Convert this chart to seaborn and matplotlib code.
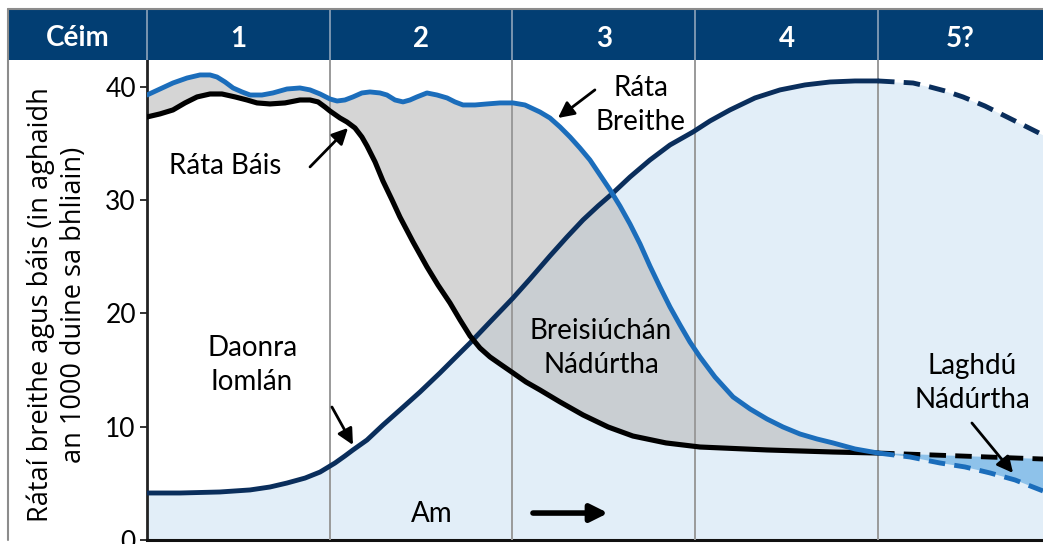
import matplotlib
matplotlib.use("Agg")
import matplotlib.pyplot as plt
from matplotlib.lines import Line2D
import numpy as np
import seaborn as sns

# ---------------- data ----------------
stage_header = "Céim"
stage_labels = ["1", "2", "3", "4", "5?"]
y_ticks = [0, 10, 20, 30, 40]

birth_x = [0.000, 0.071, 0.142, 0.219, 0.290, 0.345, 0.383, 0.427, 0.471, 0.520,
           0.564, 0.629, 0.689, 0.766, 0.837, 0.892, 0.947, 1.001, 1.040, 1.083,
           1.127, 1.176, 1.220, 1.275, 1.313, 1.357, 1.401, 1.439, 1.477, 1.532,
           1.587, 1.642, 1.685, 1.729, 1.795, 1.860, 1.932, 2.003, 2.068, 2.150,
           2.205, 2.260, 2.315, 2.369, 2.424, 2.479, 2.534, 2.588, 2.643, 2.698,
           2.752, 2.807, 2.862, 2.917, 2.971, 3.026, 3.108, 3.207, 3.300, 3.393,
           3.480, 3.573, 3.666, 3.754, 3.874, 4.000]
birth_y = [39.29, 39.82, 40.35, 40.79, 41.06, 41.06, 40.88, 40.44, 39.91, 39.56,
           39.29, 39.29, 39.47, 39.82, 39.91, 39.74, 39.38, 38.94, 38.76, 38.85,
           39.12, 39.47, 39.56, 39.47, 39.29, 38.85, 38.68, 38.85, 39.12, 39.47,
           39.29, 39.03, 38.68, 38.41, 38.41, 38.50, 38.59, 38.59, 38.41, 37.79,
           37.26, 36.47, 35.58, 34.61, 33.55, 32.23, 30.91, 29.49, 27.90, 26.14,
           24.19, 22.34, 20.57, 18.98, 17.48, 16.16, 14.39, 12.63, 11.57, 10.68,
           9.98, 9.36, 8.92, 8.57, 8.04, 7.68]
birth_future_x = [4.000, 4.175, 4.339, 4.476, 4.613, 4.750, 4.903]
birth_future_y = [7.68, 7.33, 6.80, 6.45, 5.92, 5.30, 4.33]

death_x = [0.000, 0.071, 0.142, 0.208, 0.274, 0.345, 0.410, 0.482, 0.547, 0.602,
           0.673, 0.755, 0.837, 0.892, 0.936, 0.974, 1.001, 1.056, 1.094, 1.138,
           1.176, 1.204, 1.248, 1.291, 1.341, 1.384, 1.456, 1.532, 1.592, 1.658,
           1.713, 1.768, 1.822, 1.877, 1.932, 2.003, 2.074, 2.150, 2.260, 2.386,
           2.523, 2.659, 2.840, 3.026, 3.393, 3.754, 4.000]
death_y = [37.35, 37.62, 37.97, 38.59, 39.12, 39.38, 39.38, 39.12, 38.85, 38.59,
           38.50, 38.59, 38.85, 38.85, 38.68, 38.23, 37.88, 37.26, 36.91, 36.38,
           35.58, 34.79, 33.38, 31.70, 30.02, 28.52, 26.31, 24.11, 22.52, 20.93,
           19.43, 18.01, 16.95, 16.16, 15.54, 14.75, 13.95, 13.25, 12.19, 11.04,
           9.98, 9.18, 8.57, 8.21, 7.95, 7.77, 7.68]
death_future_x = [4.000, 4.449, 4.903]
death_future_y = [7.68, 7.42, 7.15]

pop_x = [0.000, 0.181, 0.399, 0.564, 0.673, 0.766, 0.865, 0.947, 1.029, 1.083,
         1.127, 1.204, 1.291, 1.384, 1.494, 1.603, 1.685, 1.768, 1.877, 2.003,
         2.096, 2.205, 2.298, 2.386, 2.468, 2.550, 2.643, 2.752, 2.862, 2.988,
         3.081, 3.190, 3.327, 3.464, 3.601, 3.738, 3.874, 4.000]
pop_y = [4.15, 4.15, 4.24, 4.42, 4.68, 5.03, 5.47, 6.00, 6.80, 7.42,
         7.95, 8.83, 10.15, 11.48, 13.07, 14.75, 16.07, 17.40, 19.25, 21.37,
         23.05, 25.08, 26.75, 28.26, 29.49, 30.64, 32.05, 33.55, 34.88, 36.03,
         37.00, 37.97, 39.03, 39.74, 40.18, 40.44, 40.53, 40.53]
pop_future_x = [4.000, 4.099, 4.192, 4.285, 4.367, 4.465, 4.585, 4.706, 4.804, 4.903]
pop_future_y = [40.53, 40.44, 40.35, 40.00, 39.65, 39.12, 38.32, 37.35, 36.56, 35.76]

# ---------------- styling ----------------
W, H = 1043, 544
NAVY_HDR = "#023e73"
BIRTH_C = "#1b6dbb"
DEATH_C = "#000000"
POP_C = "#0a2e5c"
LIGHT_BLUE = "#e2eef8"
GREY_FILL = "#b9b9b9"
DECLINE_FILL = "#8ec2ea"
STAGE_LINE = "#9a9a9a"
DASH = (0, (3.4, 1.9))

sns.set_theme(style="white")
plt.rcParams["font.family"] = ["Lato", "DejaVu Sans"]

fig = plt.figure(figsize=(W / 100, H / 100), dpi=100)
fig.patch.set_facecolor("white")

ax = fig.add_axes([147 / W, 4 / H, 896 / W, 480 / H])
ax.set_xlim(0, 4.903)
ax.set_ylim(0, 42.38)

# fills
all_pop_x = pop_x + pop_future_x[1:]
all_pop_y = pop_y + pop_future_y[1:]
ax.fill_between(all_pop_x, 0, all_pop_y, color=LIGHT_BLUE, lw=0, zorder=1)
ax.fill(np.r_[birth_x, death_x[::-1]], np.r_[birth_y, death_y[::-1]],
        color=GREY_FILL, alpha=0.6, lw=0, zorder=2)
ax.fill(np.r_[birth_future_x, death_future_x[::-1]],
        np.r_[birth_future_y, death_future_y[::-1]],
        color=DECLINE_FILL, lw=0, zorder=2)

for k in range(1, 5):
    ax.axvline(k, color=STAGE_LINE, lw=1.4, zorder=3)

# curves
LK = dict(sort=False, estimator=None, solid_capstyle="round",
          solid_joinstyle="round")
sns.lineplot(x=pop_x, y=pop_y, ax=ax, color=POP_C, lw=3.5, zorder=4, **LK)
sns.lineplot(x=pop_future_x, y=pop_future_y, ax=ax, color=POP_C, lw=3.5,
             zorder=4, linestyle=DASH, sort=False, estimator=None)
sns.lineplot(x=death_x, y=death_y, ax=ax, color=DEATH_C, lw=3.7, zorder=5, **LK)
sns.lineplot(x=death_future_x, y=death_future_y, ax=ax, color=DEATH_C, lw=3.5,
             zorder=5, linestyle=DASH, sort=False, estimator=None)
sns.lineplot(x=birth_x, y=birth_y, ax=ax, color=BIRTH_C, lw=3.5, zorder=5, **LK)
sns.lineplot(x=birth_future_x, y=birth_future_y, ax=ax, color=BIRTH_C, lw=3.5,
             zorder=5, linestyle=DASH, sort=False, estimator=None)

# axes cosmetics
for s in ["top", "right"]:
    ax.spines[s].set_visible(False)
ax.spines["left"].set_color("#222222")
ax.spines["left"].set_linewidth(2)
ax.spines["bottom"].set_color("#111111")
ax.spines["bottom"].set_linewidth(2.2)
ax.set_xticks([])
ax.set_yticks(y_ticks)
ax.set_yticklabels([str(t) for t in y_ticks])
ax.tick_params(axis="y", left=True, length=5, width=1.3, color="#222222",
               labelsize=19, pad=3, labelcolor="black")
ax.set_ylabel("Rátaí breithe agus báis (in aghaidh\nan 1000 duine sa bhliain)",
              fontsize=19.5, family=["Open Sans", "DejaVu Sans"], linespacing=1.22,
              color="black")
ax.yaxis.set_label_coords(-0.066, 0.49)

# annotations
TXT = dict(fontsize=20, color="black", ha="center", va="center", linespacing=1.35,
           zorder=7)
AP = dict(arrowstyle="-|>", lw=2, color="black", mutation_scale=24,
          shrinkA=0, shrinkB=0)
ax.text(0.427, 33.0, "Ráta Báis", **TXT)
ax.annotate("", xy=(1.100, 36.38), xytext=(0.892, 32.94), arrowprops=AP, zorder=7)
ax.text(0.575, 15.45, "Daonra\nIomlán", **TXT)
ax.annotate("", xy=(1.127, 8.39), xytext=(1.012, 11.74), arrowprops=AP, zorder=7)
ax.text(2.484, 16.95, "Breisiúchán\nNádúrtha", **TXT)
ax.text(2.703, 38.41, "Ráta\nBreithe", **TXT)
ax.annotate("", xy=(2.249, 37.26), xytext=(2.451, 39.74), arrowprops=AP, zorder=7)
ax.text(4.514, 13.86, "Laghdú\nNádúrtha", **TXT)
ax.annotate("", xy=(4.739, 5.92), xytext=(4.514, 10.33), arrowprops=AP, zorder=7)
ax.text(1.559, 2.30, "Am", **TXT)
ax.annotate("", xy=(2.523, 2.38), xytext=(2.112, 2.38),
            arrowprops=dict(arrowstyle="-|>", lw=4, color="black",
                            mutation_scale=26, shrinkA=0, shrinkB=0), zorder=7)

# header band
hx0 = -139 / 182.75
hdr = fig.add_axes([8 / W, (H - 60) / H, 1035 / W, 50 / H])
hdr.set_facecolor(NAVY_HDR)
hdr.set_xlim(hx0, 4.903)
hdr.set_ylim(0, 1)
hdr.set_xticks([])
hdr.set_yticks([])
for s in hdr.spines.values():
    s.set_visible(False)
for k in range(0, 5):
    hdr.axvline(k, color="#8ea3ba", lw=1.2)
HT = dict(color="white", fontsize=20, fontweight="bold", ha="center", va="center")
hdr.text(-0.378, 0.44, stage_header, **HT)
for i, lab in enumerate(stage_labels):
    cx = i + 0.5 if i < 4 else 4.45
    hdr.text(cx, 0.42, lab, **HT)

# outer frame lines (left and top)
fig.add_artist(Line2D([8 / W, 1.0], [1 - 9 / H, 1 - 9 / H], color="#8c8c8c", lw=1.5))
fig.add_artist(Line2D([8 / W, 8 / W], [4 / H, 1 - 9 / H], color="#8c8c8c", lw=1.5))

fig.savefig("out.png", dpi=100, facecolor="white")
